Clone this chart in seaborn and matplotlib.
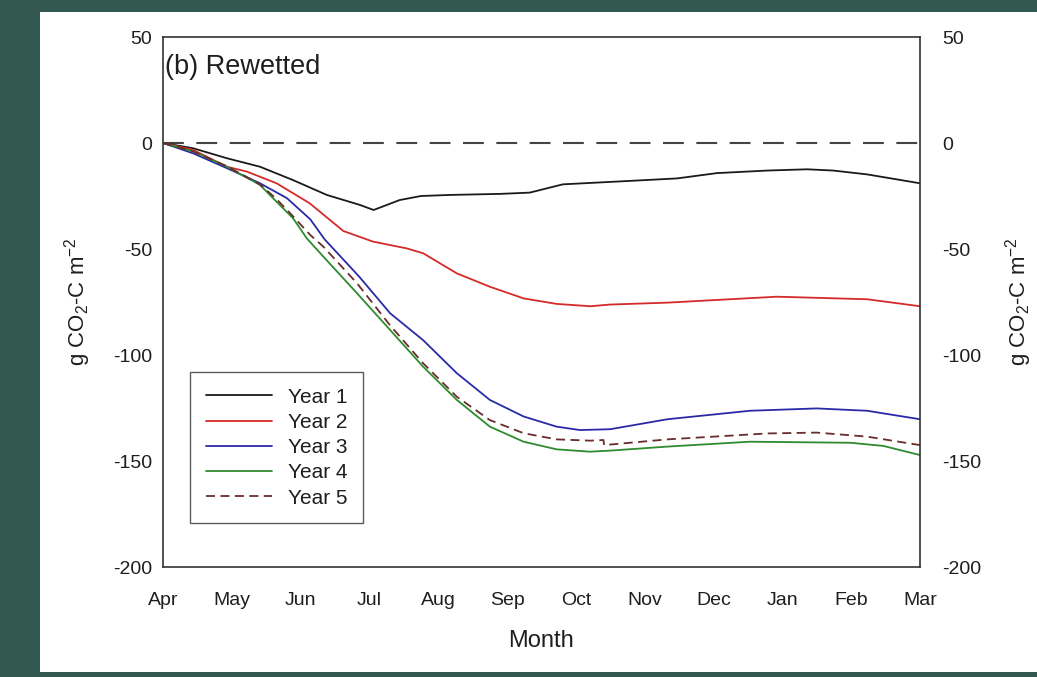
import matplotlib
matplotlib.use("Agg")
import matplotlib.pyplot as plt
from matplotlib.patches import Rectangle
import numpy as np
import seaborn as sns

# month axis: 0 = Apr ... 11 = Mar
months = ["Apr", "May", "Jun", "Jul", "Aug", "Sep", "Oct", "Nov", "Dec", "Jan", "Feb", "Mar"]

year1_x = [0, 0.44, 0.93, 1.41, 1.89, 2.38, 2.86, 3.06, 3.44, 3.75, 4.17, 4.90, 5.33, 5.81, 6.83, 7.47, 8.05, 8.78, 9.36, 9.74, 10.23, 11.0]
year1_y = [0, -2.5, -7.2, -11.2, -17.5, -24.5, -29.2, -31.6, -26.9, -25, -24.5, -24, -23.4, -19.5, -17.8, -16.7, -14.2, -13, -12.4, -13, -14.8, -19]

year2_x = [0, 0.44, 0.93, 1.22, 1.65, 2.13, 2.62, 3.05, 3.54, 3.78, 4.27, 4.75, 5.24, 5.72, 6.21, 6.50, 7.33, 8.92, 10.23, 11.0]
year2_y = [0, -3.3, -11.2, -13.5, -19, -28.4, -41.5, -46.5, -49.7, -52, -61.5, -67.8, -73.3, -75.9, -77, -76.2, -75.3, -72.5, -73.7, -77]

year3_x = [0, 0.44, 0.93, 1.41, 1.80, 2.14, 2.35, 2.85, 3.30, 3.78, 4.27, 4.75, 5.24, 5.72, 6.06, 6.50, 7.33, 8.53, 9.50, 10.23, 11.0]
year3_y = [0, -4.9, -11.9, -19, -26, -36, -45.5, -63, -80.3, -93, -108.6, -121.2, -129, -133.8, -135.4, -135, -130.3, -126.3, -125.2, -126.3, -130.3]

year4_x = [0, 0.44, 0.93, 1.41, 1.65, 1.89, 2.09, 2.33, 2.82, 3.30, 3.78, 4.27, 4.75, 5.24, 5.72, 6.20, 6.50, 7.33, 8.53, 9.99, 10.47, 11.0]
year4_y = [0, -4, -11.2, -19.8, -27.7, -35.5, -45, -53.6, -70.9, -88.2, -105.5, -121.2, -133.8, -140.9, -144.5, -145.6, -145.1, -143.2, -140.9, -141.4, -142.9, -147.2]

year5_x = [0, 0.44, 0.93, 1.41, 1.65, 1.85, 2.14, 2.33, 2.82, 3.30, 3.78, 4.27, 4.75, 5.24, 5.72, 6.21, 6.40, 6.41, 7.33, 8.78, 9.50, 10.23, 11.0]
year5_y = [0, -4, -11, -19.5, -26.5, -33.2, -43.4, -48.9, -66.2, -86, -103.9, -119.7, -130.7, -136.9, -139.8, -140.4, -140.1, -142.5, -139.8, -137, -136.6, -138.5, -142.5]

series = [
    ("Year 1", year1_x, year1_y, "#1a1a1a", None),
    ("Year 2", year2_x, year2_y, "#d42a2a", None),
    ("Year 3", year3_x, year3_y, "#2a2aa8", None),
    ("Year 4", year4_x, year4_y, "#2e8b2e", None),
    ("Year 5", year5_x, year5_y, "#6a2c2c", (5, 3)),
]

sns.set_style("white")
plt.rcParams['font.family'] = ['Liberation Sans', 'DejaVu Sans']
plt.rcParams['axes.unicode_minus'] = False
plt.rcParams['mathtext.default'] = 'regular'

fig = plt.figure(figsize=(10.37, 6.77), dpi=100)
fig.patch.set_facecolor("#325850")
# white panel of the original figure
fig.patches.append(Rectangle((40 / 1037, 5 / 677), 997 / 1037, 660 / 677,
                             transform=fig.transFigure, facecolor="white",
                             edgecolor="none", zorder=-10))

ax = fig.add_axes([163 / 1037, 1 - 567 / 677, 757 / 1037, 530 / 677])
ax.set_facecolor("white")

ax.axhline(0, color="#444444", lw=1.5, dashes=(10, 6), zorder=1)

for name, xs, ys, col, dash in series:
    line_ax = sns.lineplot(x=xs, y=ys, ax=ax, color=col, lw=1.3,
                           label=name, sort=False, estimator=None)
    if dash is not None:
        line_ax.get_lines()[-1].set_dashes(dash)

ax.set_xlim(0, 11)
ax.set_ylim(-200, 50)
ax.set_xticks(np.arange(len(months)))
ax.set_xticklabels(months)
ax.set_yticks([-200, -150, -100, -50, 0, 50])
ax.tick_params(axis="x", direction="in", length=6, width=1, labelsize=14, pad=18, colors="#1e1e1e")
ax.tick_params(axis="y", direction="in", length=0, labelsize=14, pad=8, colors="#1e1e1e")
for s in ax.spines.values():
    s.set_color("#333333")
    s.set_linewidth(1.2)

ylab = "g CO$_2$-C m$^{-2}$"
ax.set_xlabel("Month", fontsize=17, labelpad=15, color="#1e1e1e")
ax.set_ylabel(ylab, fontsize=16, labelpad=14, color="#1e1e1e")

ax2 = ax.twinx()
ax2.set_ylim(-200, 50)
ax2.set_yticks([-200, -150, -100, -50, 0, 50])
ax2.tick_params(axis="y", direction="in", length=0, labelsize=14, pad=16, colors="#1e1e1e")
ax2.set_ylabel(ylab, fontsize=16, labelpad=16, color="#1e1e1e", rotation=90)
for s in ax2.spines.values():
    s.set_visible(False)

ax.text(0.002, 0.943, "(b) Rewetted", transform=ax.transAxes, fontsize=19.5,
        va="center", ha="left", color="#1e1e1e")

leg = ax.legend(loc="upper left", bbox_to_anchor=(27 / 757, 195 / 530), fontsize=15,
                frameon=True, fancybox=False, edgecolor="#333333",
                handlelength=3.2, handletextpad=0.75, labelspacing=0.3,
                borderpad=0.75, borderaxespad=0)
leg.get_frame().set_linewidth(1.0)
for txt in leg.get_texts():
    txt.set_color("#1e1e1e")

fig.savefig("out.png", dpi=100, facecolor=fig.get_facecolor())
